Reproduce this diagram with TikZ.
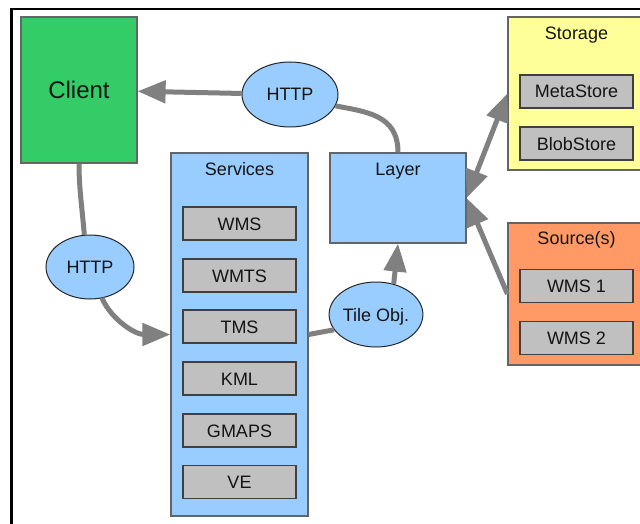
\documentclass[tikz,border=0pt]{standalone}
\usepackage{fontspec}
\setmainfont{Liberation Sans}
\usetikzlibrary{arrows.meta,shapes.geometric}
\definecolor{clientgreen}{RGB}{51,204,102}
\definecolor{svcblue}{RGB}{153,204,255}
\definecolor{itemgray}{RGB}{192,192,192}
\definecolor{storeyellow}{RGB}{255,255,153}
\definecolor{srcorange}{RGB}{255,153,102}
\definecolor{connector}{RGB}{128,128,128}
\definecolor{edgegray}{RGB}{100,100,100}
\definecolor{inktext}{RGB}{20,20,20}

\begin{document}
\begin{tikzpicture}[x=1pt,y=-1pt,
  every node/.style={font=\fontsize{18}{20}\selectfont, text=inktext, inner sep=0pt,
                     text height=13pt, text depth=0pt},
  box/.style={rectangle, draw=edgegray, line width=1.2pt},
  item/.style={box, fill=itemgray, draw=black!75, minimum width=113pt, minimum height=33pt},
  bubble/.style={ellipse, draw=black!85, line width=1pt, fill=svcblue},
  conn/.style={draw=connector, line width=5pt},
  >={Triangle[length=28pt,width=22pt]},
]
\path[use as bounding box] (0,0) rectangle (640,524);
\clip (0,0) rectangle (640,524);
\fill[white] (0,0) rectangle (640,524);

% outer frame
\draw[line width=2.5pt] (11.3,540) -- (11.3,9) -- (660,9);

% client
\node[box, fill=clientgreen, draw=black!60, minimum width=116pt, minimum height=146pt,
      font=\fontsize{24}{28}\selectfont, text height=17pt] (client) at (79,90) {Client};

% services container
\node[box, fill=svcblue, minimum width=137pt, minimum height=363pt] (services) at (239.5,334.5) {};
\node (servicestitle) at (239.5,169) {Services};
\node[item] (wms)   at (239.5,223.5) {WMS};
\node[item] (wmts)  at (239.5,275.5) {WMTS};
\node[item] (tms)   at (239.5,326.5) {TMS};
\node[item] (kml)   at (239.5,378.5) {KML};
\node[item] (gmaps) at (239.5,430.5) {GMAPS};
\node[item] (ve)    at (239.5,482)   {VE};

% layer
\node[box, fill=svcblue, minimum width=136pt, minimum height=90pt] (layer) at (398,198) {};
\node (layertitle) at (398,169) {Layer};

% storage
\node[box, fill=storeyellow, minimum width=137pt, minimum height=153pt] (storage) at (576.5,93.5) {};
\node (storagetitle) at (576.5,33) {Storage};
\node[item] (metastore) at (576.5,91.5)  {MetaStore};
\node[item] (blobstore) at (576.5,143.5) {BlobStore};

% sources
\node[box, fill=srcorange, minimum width=137pt, minimum height=142pt] (source) at (576.5,294) {};
\node (sourcetitle) at (576.5,238) {Source(s)};
\node[item] (wmsone) at (576.5,286) {WMS 1};
\node[item] (wmstwo) at (576.5,338) {WMS 2};

% protocol bubbles
\node[bubble, minimum width=96pt, minimum height=65pt] (http1) at (290,94.5) {HTTP};
\node[bubble, minimum width=88pt, minimum height=64pt] (http2) at (90,267) {HTTP};
\node[bubble, minimum width=88pt, minimum height=65pt] (tile) at (376,314.5) {Tile Obj.};

% connectors
\draw[conn,->] (http1) -- (client);
\draw[conn] (layer.north) .. controls +(0,-38) and +(30,6) .. (http1.-14);
\draw[conn] (client.south) .. controls +(0,25) and +(-2,-25) .. (http2.100);
\draw[conn,->] (http2.-69) .. controls +(10,22) and +(-35,0) .. (services.west);
\draw[conn] (services.east) -- (tile.200);
\draw[conn,->] (tile.60) -- (layer.south);
\draw[conn,<->] (layer.east) -- (storage.west);
\draw[conn,->] (source.west) -- (layer.east);
\end{tikzpicture}
\end{document}
